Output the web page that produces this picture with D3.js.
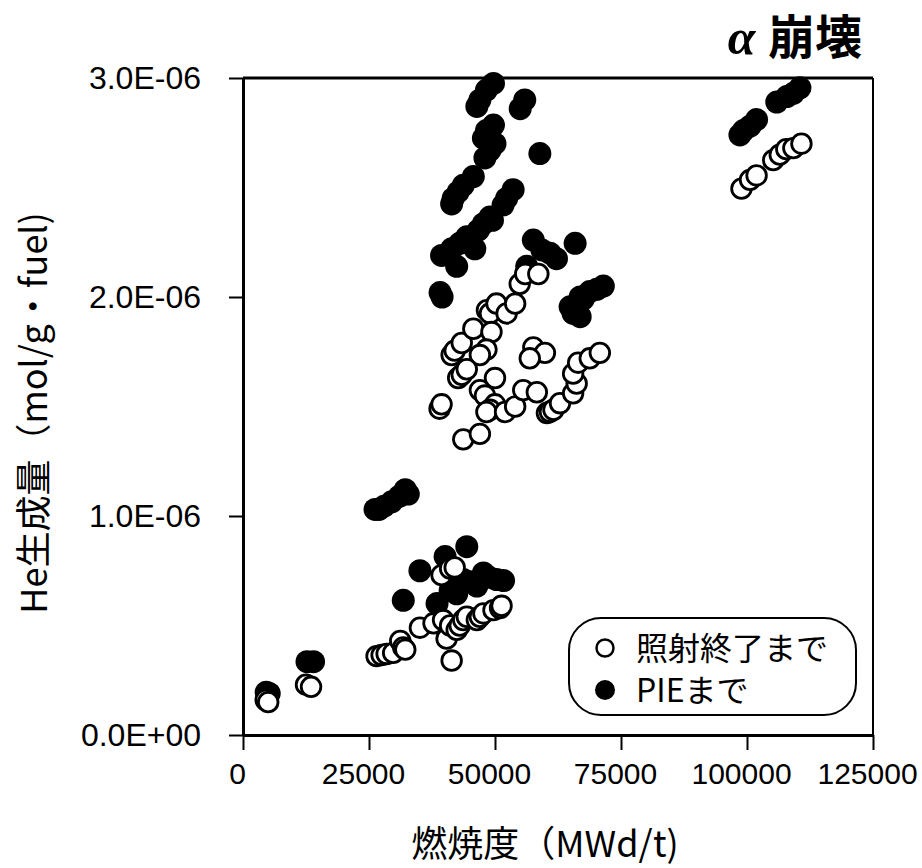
<!DOCTYPE html>
<html>
<head>
<meta charset="utf-8">
<script src="https://cdn.jsdelivr.net/npm/d3@7"></script>
<style>
  body { margin: 0; background: #fff; }
  svg { display: block; }
</style>
</head>
<body>
<div id="chart-area"></div>
<script>
// DATA (burnup MWd/t, He in 1E-06 mol/g)
const xTicks = [0, 25000, 50000, 75000, 100000, 125000]
const yTicks = [0, 1, 2, 3]
const yTickLabels = ['0.0E+00', '1.0E-06', '2.0E-06', '3.0E-06']

// 照射終了まで (open)
const openData = [
  [4500, 0.16], [5000, 0.15],
  [12500, 0.23], [13500, 0.22],
  [26500, 0.36], [27500, 0.365], [28500, 0.37], [29800, 0.375], [31200, 0.43], [31800, 0.40], [32200, 0.39],
  [35100, 0.49], [37800, 0.51], [39700, 0.525], [40400, 0.44], [41100, 0.50], [41400, 0.34], [42400, 0.48],
  [43000, 0.50], [43700, 0.525], [44400, 0.54], [46400, 0.525], [47000, 0.54], [47700, 0.555], [49700, 0.57],
  [51000, 0.58], [51300, 0.59],
  [39400, 0.73], [41100, 0.76], [42000, 0.765],
  [39000, 1.49], [39400, 1.51],
  [43700, 1.35], [47000, 1.375],
  [41400, 1.735], [42000, 1.755], [43400, 1.79], [45700, 1.855], [48400, 1.94], [49000, 1.925], [50300, 1.97],
  [52300, 1.925], [54000, 1.97], [49300, 1.84], [48300, 1.76], [47000, 1.735],
  [42700, 1.63], [43400, 1.645], [44400, 1.67], [50000, 1.63], [47000, 1.575], [48000, 1.55], [50000, 1.51],
  [49000, 1.485], [48300, 1.475], [52000, 1.475], [54000, 1.50], [55600, 1.575], [58300, 1.565],
  [57600, 1.77], [59900, 1.745], [56900, 1.72],
  [60300, 1.47], [60900, 1.476], [61600, 1.485], [62900, 1.515], [65500, 1.56], [66200, 1.605], [65500, 1.65],
  [66500, 1.70], [68800, 1.72], [70800, 1.745],
  [54900, 2.06], [56000, 2.105], [58600, 2.105],
  [98900, 2.495], [100600, 2.535], [101900, 2.555], [105200, 2.625], [106500, 2.65], [107800, 2.675],
  [109200, 2.68], [110800, 2.70]
]

// PIEまで (filled)
const filledData = [
  [4600, 0.195], [5200, 0.19],
  [12700, 0.335], [14000, 0.335],
  [26200, 1.03], [27000, 1.03], [28000, 1.045], [29500, 1.065], [31000, 1.09], [32200, 1.12], [32800, 1.10],
  [31800, 0.615], [35100, 0.75], [38500, 0.60], [40100, 0.815], [44400, 0.86], [41100, 0.66], [42400, 0.645],
  [43700, 0.71], [46400, 0.68], [47700, 0.74], [50300, 0.71], [51700, 0.705], [45000, 0.70], [48800, 0.72],
  [39100, 2.02], [39500, 2.0],
  [39400, 2.19], [41400, 2.22], [42400, 2.14], [43000, 2.245], [44400, 2.275], [46000, 2.22], [46700, 2.305],
  [47700, 2.335], [49000, 2.365], [49500, 2.35],
  [41400, 2.425], [41700, 2.45], [42700, 2.48], [43700, 2.51], [45700, 2.55],
  [51600, 2.42], [52300, 2.45], [53600, 2.49],
  [48000, 2.635], [49000, 2.67], [50000, 2.70], [47700, 2.725], [48300, 2.76], [49700, 2.785],
  [46400, 2.87], [47000, 2.90], [48300, 2.945], [49700, 2.975],
  [55000, 2.86], [55900, 2.90],
  [58900, 2.655],
  [56300, 2.14], [57600, 2.26], [59300, 2.215], [60900, 2.20], [62200, 2.175], [65900, 2.245],
  [64900, 1.955], [65500, 1.925], [66900, 1.91], [66900, 2.0], [67500, 1.99], [68800, 2.025], [70200, 2.035], [71500, 2.05],
  [98600, 2.74], [99300, 2.76], [100600, 2.78], [101900, 2.81], [105900, 2.89], [107900, 2.915], [109200, 2.93], [110500, 2.955]
]

const legendLabels = ['照射終了まで', 'PIEまで']

// SVG
const W = 922, H = 868
const pLeft = 243, pRight = 873, pTop = 78, pBottom = 735
const svg = d3.select('#chart-area')
              .append('svg')
              .attr('width', W)
              .attr('height', H)

const latin = '"Liberation Sans", Arial, sans-serif'
const cjk = '"Noto Sans CJK JP", "Noto Sans", sans-serif'

// SCALES
let x = d3.scaleLinear().domain([0, 125000]).range([pLeft, pRight])
let y = d3.scaleLinear().domain([0, 3]).range([pBottom, pTop])

// FRAME (top and right)
svg.append('line')
   .attr('x1', pLeft).attr('x2', pRight).attr('y1', pTop).attr('y2', pTop)
   .attr('stroke', '#000').attr('stroke-width', 3)
svg.append('line')
   .attr('x1', pRight).attr('x2', pRight).attr('y1', pTop).attr('y2', pBottom)
   .attr('stroke', '#000').attr('stroke-width', 2)

// AXES
let xAxis = svg.append('g')
   .attr('transform', `translate(0,${pBottom})`)
   .call(d3.axisBottom(x).tickValues(xTicks).tickFormat(d3.format('d')).tickSize(15).tickSizeOuter(0).tickPadding(13))
xAxis.select('.domain').attr('stroke-width', 3)
xAxis.selectAll('.tick line').attr('stroke-width', 2)
xAxis.selectAll('text')
     .attr('font-family', latin).attr('font-size', 30).attr('fill', '#000')
     .attr('dx', -6)

let yAxis = svg.append('g')
   .attr('transform', `translate(${pLeft},0)`)
   .call(d3.axisLeft(y).tickValues(yTicks).tickFormat((d, i) => yTickLabels[i]).tickSize(14).tickSizeOuter(0).tickPadding(28))
yAxis.select('.domain').attr('stroke-width', 3)
yAxis.selectAll('.tick line').attr('stroke-width', 2)
yAxis.selectAll('text')
     .attr('font-family', latin).attr('font-size', 32).attr('fill', '#000')

// POINTS: filled first, open on top
svg.append('g').selectAll('circle').data(filledData).enter()
   .append('circle')
   .attr('cx', d => x(d[0]))
   .attr('cy', d => y(d[1]))
   .attr('r', 11.5)
   .attr('fill', '#000')

svg.append('g').selectAll('circle').data(openData).enter()
   .append('circle')
   .attr('cx', d => x(d[0]))
   .attr('cy', d => y(d[1]))
   .attr('r', 9.8)
   .attr('fill', '#fff')
   .attr('stroke', '#000')
   .attr('stroke-width', 2.8)

// AXIS TITLES
svg.append('text')
   .attr('x', 545).attr('y', 857)
   .attr('text-anchor', 'middle')
   .attr('font-family', cjk).attr('font-size', 36)
   .text('燃焼度（MWd/t)')

svg.append('text')
   .attr('transform', 'translate(47,413) rotate(-90)')
   .attr('text-anchor', 'middle')
   .attr('font-family', cjk).attr('font-size', 36)
   .text('He生成量（mol/g・fuel)')

// TITLE
let title = svg.append('text')
   .attr('x', 862).attr('y', 54)
   .attr('text-anchor', 'end')
   .attr('font-weight', 'bold')
title.append('tspan')
     .attr('font-family', '"Liberation Serif", serif').attr('font-style', 'italic').attr('font-size', 50)
     .text('α ')
title.append('tspan')
     .attr('font-family', cjk).attr('font-size', 47)
     .text('崩壊')

// LEGEND
let legend = svg.append('g')
legend.append('rect')
      .attr('x', 569).attr('y', 618).attr('width', 287).attr('height', 97)
      .attr('rx', 32).attr('ry', 32)
      .attr('fill', '#fff').attr('stroke', '#000').attr('stroke-width', 2)
legend.append('circle')
      .attr('cx', 605).attr('cy', 648).attr('r', 8.5)
      .attr('fill', '#fff').attr('stroke', '#000').attr('stroke-width', 2.5)
legend.append('circle')
      .attr('cx', 605).attr('cy', 690).attr('r', 10)
      .attr('fill', '#000')
legend.selectAll('text.lab').data(legendLabels).enter()
      .append('text')
      .attr('class', 'lab')
      .attr('x', 636)
      .attr('y', (d, i) => 660 + i * 42)
      .attr('font-family', cjk).attr('font-size', 32)
      .text(d => d)
</script>
</body>
</html>
